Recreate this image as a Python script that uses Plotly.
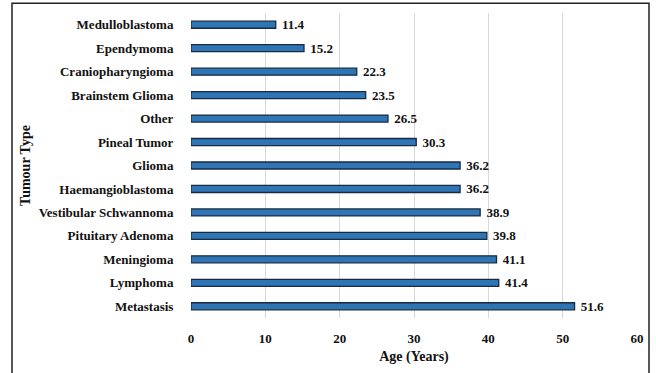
import plotly.graph_objects as go

# Mean age at diagnosis by tumour type (years)
tumour_types = [
    "Medulloblastoma", "Ependymoma", "Craniopharyngioma", "Brainstem Glioma",
    "Other", "Pineal Tumor", "Glioma", "Haemangioblastoma",
    "Vestibular Schwannoma", "Pituitary Adenoma", "Meningioma", "Lymphoma",
    "Metastasis",
]
mean_age = [11.4, 15.2, 22.3, 23.5, 26.5, 30.3, 36.2, 36.2, 38.9, 39.8, 41.1, 41.4, 51.6]
x_ticks = [0, 10, 20, 30, 40, 50, 60]

FONT = "Liberation Serif, Times New Roman, serif"

fig = go.Figure(
    go.Bar(
        x=mean_age,
        y=tumour_types,
        orientation="h",
        width=0.3,
        marker=dict(color="#2E75B6", line=dict(color="#1b2a3f", width=1.3)),
        # leading space widens the gap between bar end and its value label
        text=[f" {v:.1f}" for v in mean_age],
        textposition="outside",
        constraintext="none",
        textfont=dict(family=FONT, size=13, color="#111111", weight="bold"),
        cliponaxis=False,
    )
)

fig.update_layout(
    width=656,
    height=373,
    margin=dict(l=191, r=19, t=13, b=50),
    paper_bgcolor="white",
    plot_bgcolor="white",
    font=dict(family=FONT, size=13, color="#111111"),
    showlegend=False,
    xaxis=dict(
        range=[0, 60],
        tickvals=x_ticks,
        ticktext=[str(t) for t in x_ticks],
        showgrid=True,
        gridcolor="#d9d9d9",
        gridwidth=1,
        zeroline=False,
        showline=False,
        ticks="outside",
        ticklen=8,
        tickcolor="rgba(0,0,0,0)",
        tickfont=dict(family=FONT, size=13, color="#111111", weight="bold"),
        title=dict(text="<b>Age (Years)</b>", font=dict(family=FONT, size=14), standoff=6),
    ),
    yaxis=dict(
        categoryorder="array",
        categoryarray=tumour_types[::-1],
        showgrid=False,
        zeroline=False,
        showline=False,
        ticks="outside",
        ticklen=14,
        tickcolor="rgba(0,0,0,0)",
        tickfont=dict(family=FONT, size=13, color="#111111", weight="bold"),
        title=dict(text="<b>Tumour Type</b>", font=dict(family=FONT, size=14), standoff=4),
    ),
)

# Frame around the whole chart
fig.add_shape(
    type="rect",
    xref="paper", yref="paper",
    x0=(12 - 191) / 446, x1=(649 - 191) / 446,
    y0=-0.3, y1=(323 - 3) / 310,
    line=dict(color="#222222", width=1.5),
    fillcolor="rgba(0,0,0,0)",
    layer="above",
)

fig.write_html("out.html")
